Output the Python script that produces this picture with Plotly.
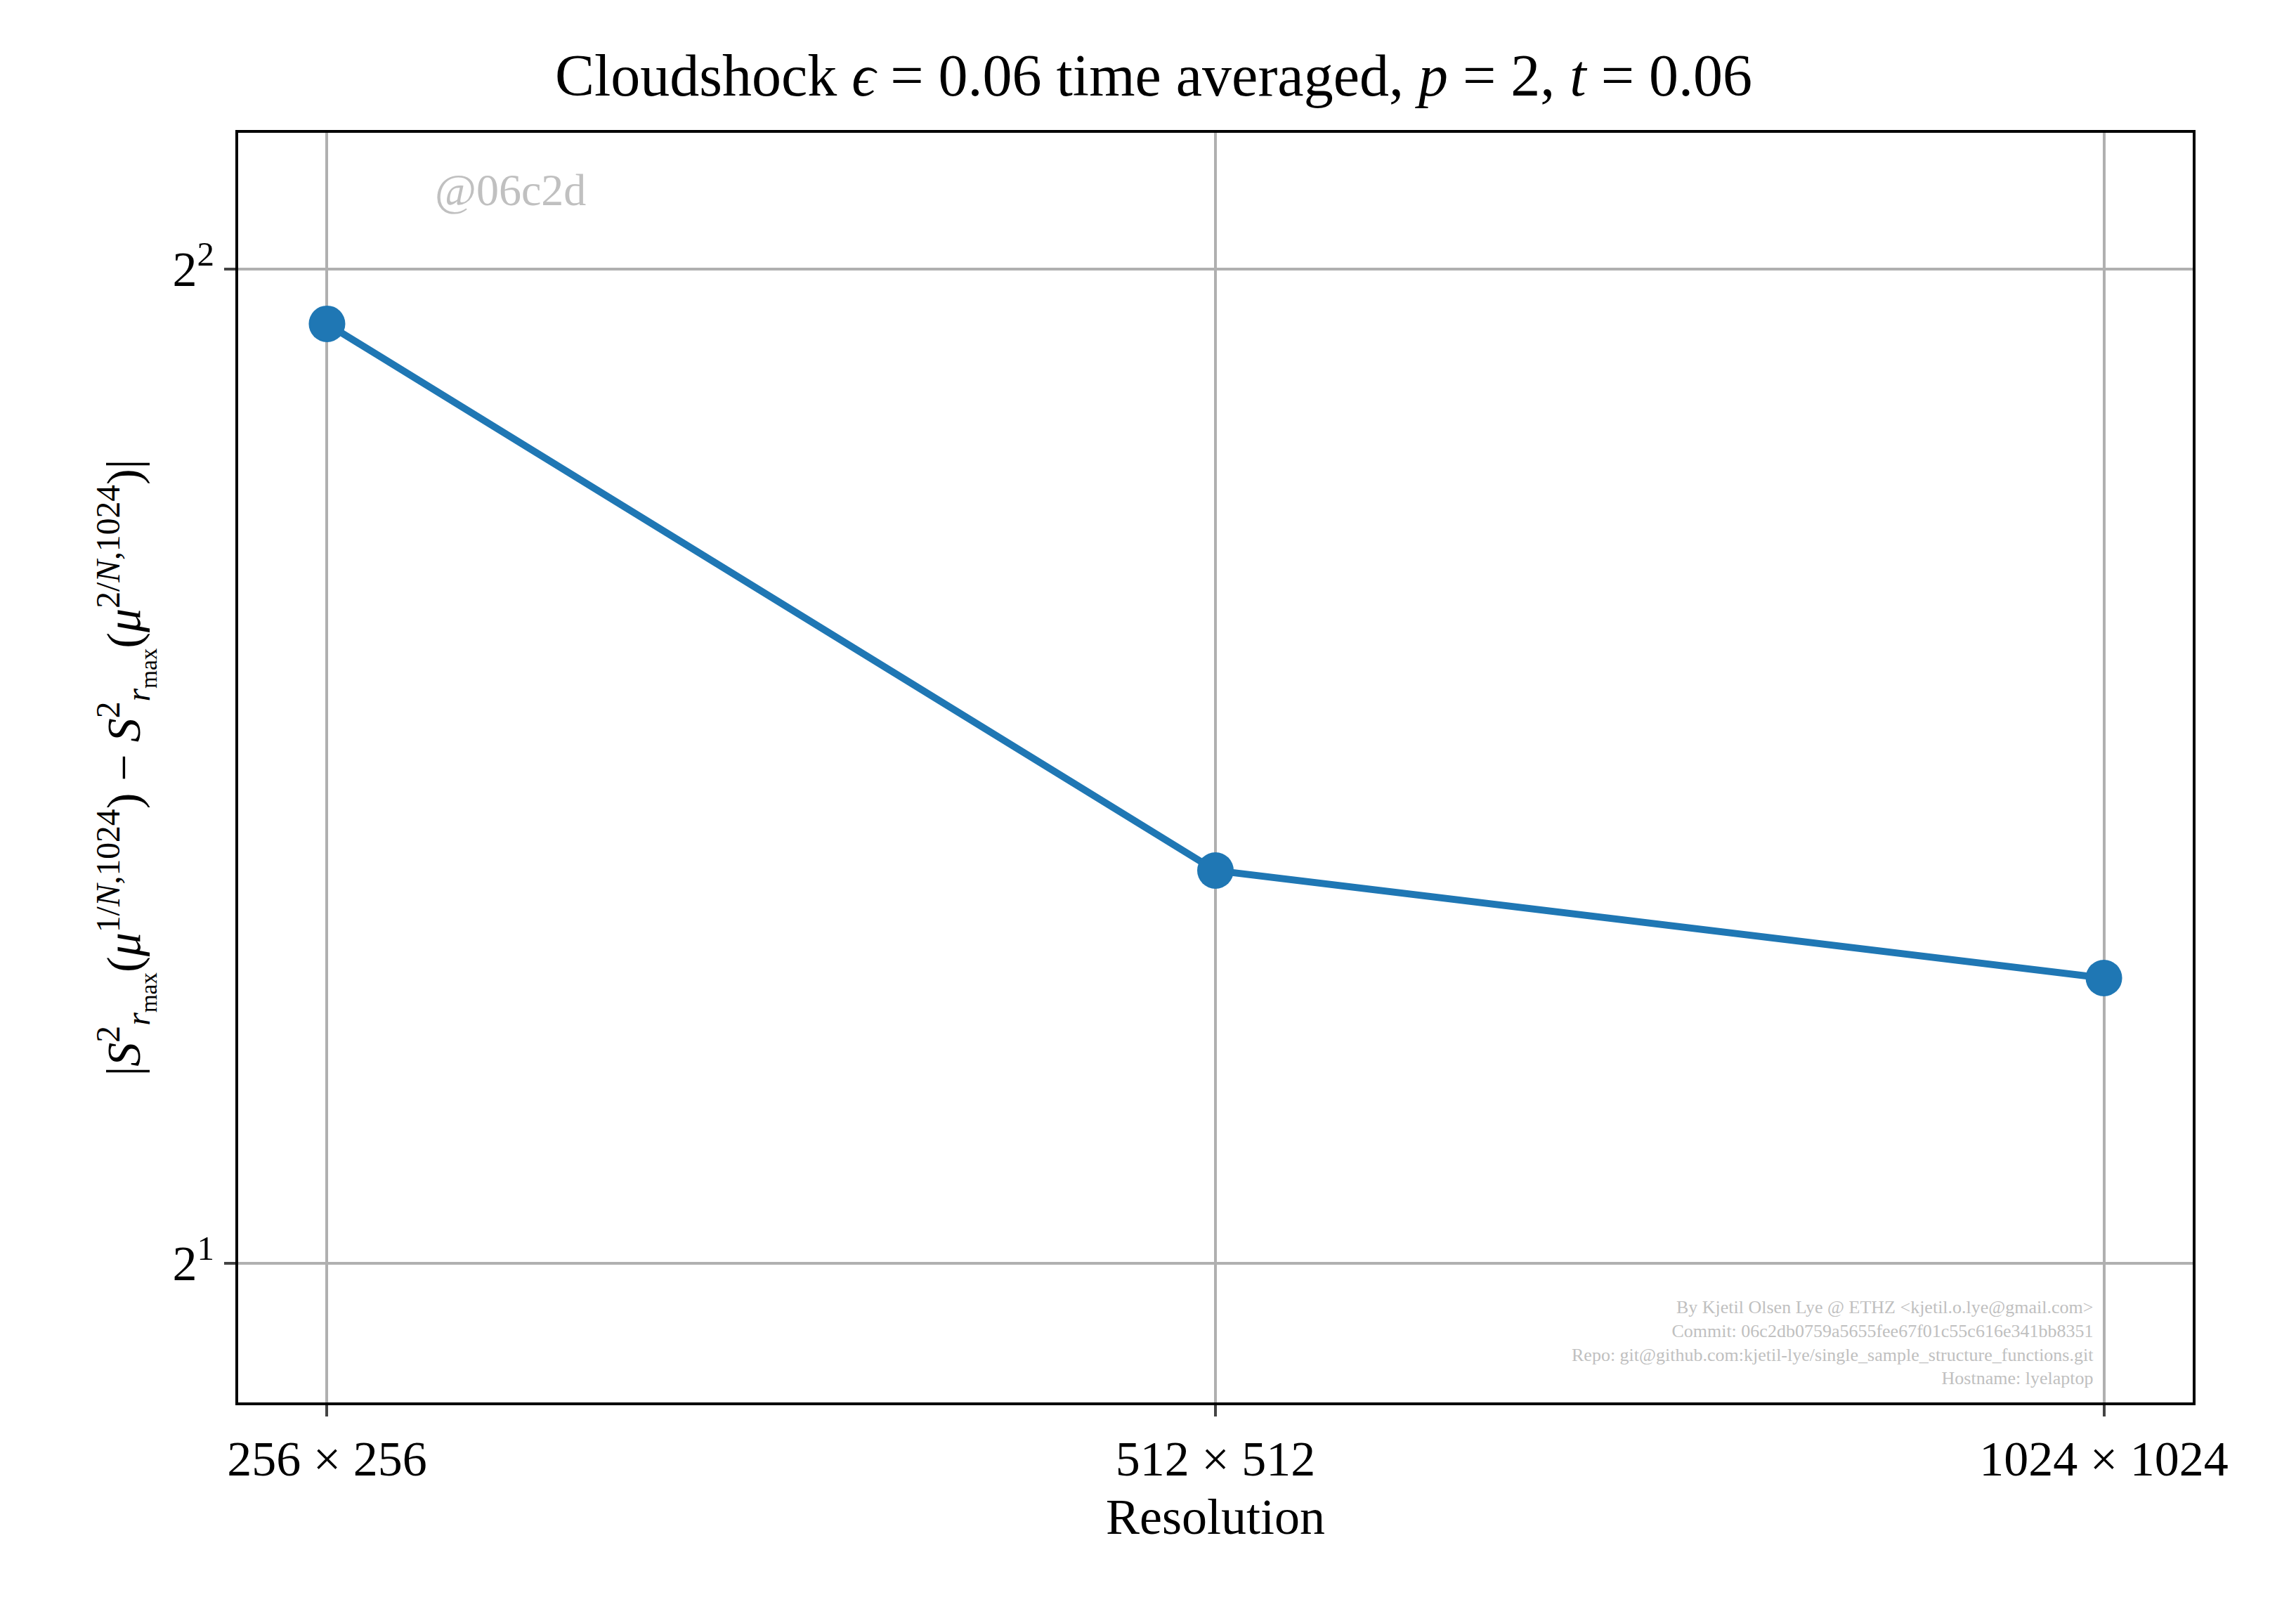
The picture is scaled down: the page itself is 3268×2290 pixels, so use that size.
import plotly.graph_objects as go

categories = ["256 × 256", "512 × 512", "1024 × 1024"]
values = [3.85, 2.63, 2.44]

SERIF = "Liberation Serif, DejaVu Serif, serif"

fig = go.Figure(
    go.Scatter(
        x=[0, 1, 2],
        y=values,
        mode="lines+markers",
        line=dict(color="#1f77b4", width=10),
        marker=dict(color="#1f77b4", size=52),
    )
)

fig.update_layout(
    width=3268,
    height=2290,
    paper_bgcolor="white",
    plot_bgcolor="white",
    showlegend=False,
    font=dict(family=SERIF, size=70, color="black"),
    margin=dict(l=331, r=155, t=181, b=302),
    title=dict(
        text="Cloudshock <i>ϵ</i> = 0.06 time averaged, <i>p</i> = 2, <i>t</i> = 0.06",
        x=0.5, xanchor="center", y=0.957, yanchor="middle",
        font=dict(size=84),
    ),
    xaxis=dict(
        range=[-0.1, 2.1],
        tickmode="array",
        tickvals=[0, 1, 2],
        ticktext=categories,
        showgrid=True, gridcolor="#b0b0b0", gridwidth=4,
        showline=True, linecolor="black", linewidth=4, mirror=True,
        ticks="outside", ticklen=16, tickwidth=4,
        zeroline=False,
        title=dict(text="Resolution", font=dict(size=72), standoff=20),
    ),
    yaxis=dict(
        type="log",
        range=[0.2589, 0.6433],
        tickmode="array",
        tickvals=[2, 4],
        ticktext=["2<sup>1</sup>", "2<sup>2</sup>"],
        showgrid=True, gridcolor="#b0b0b0", gridwidth=4,
        showline=True, linecolor="black", linewidth=4, mirror=True,
        ticks="outside", ticklen=16, tickwidth=4,
        zeroline=False,
        title=dict(
            text="|<i>S</i><sup>2</sup><sub><i>r</i><sub>max</sub></sub>(<i>μ</i><sup>1/<i>N</i>,1024</sup>) − "
                 "<i>S</i><sup>2</sup><sub><i>r</i><sub>max</sub></sub>(<i>μ</i><sup>2/<i>N</i>,1024</sup>)|",
            font=dict(size=68), standoff=25,
        ),
    ),
)

fig.add_annotation(
    text="@06c2d", xref="paper", yref="paper", x=0.1, y=0.955,
    xanchor="left", yanchor="middle", showarrow=False,
    font=dict(size=64, color="#c0c0c0"),
)
fig.add_annotation(
    text="By Kjetil Olsen Lye @ ETHZ &lt;kjetil.o.lye@gmail.com&gt;<br>"
         "Commit: 06c2db0759a5655fee67f01c55c616e341bb8351<br>"
         "Repo: git@github.com:kjetil-lye/single_sample_structure_functions.git<br>"
         "Hostname: lyelaptop",
    xref="paper", yref="paper", x=0.95, y=0.01,
    xanchor="right", yanchor="bottom", align="right", showarrow=False,
    font=dict(size=26, color="#c0c0c0"),
)

fig.write_html("out.html")
